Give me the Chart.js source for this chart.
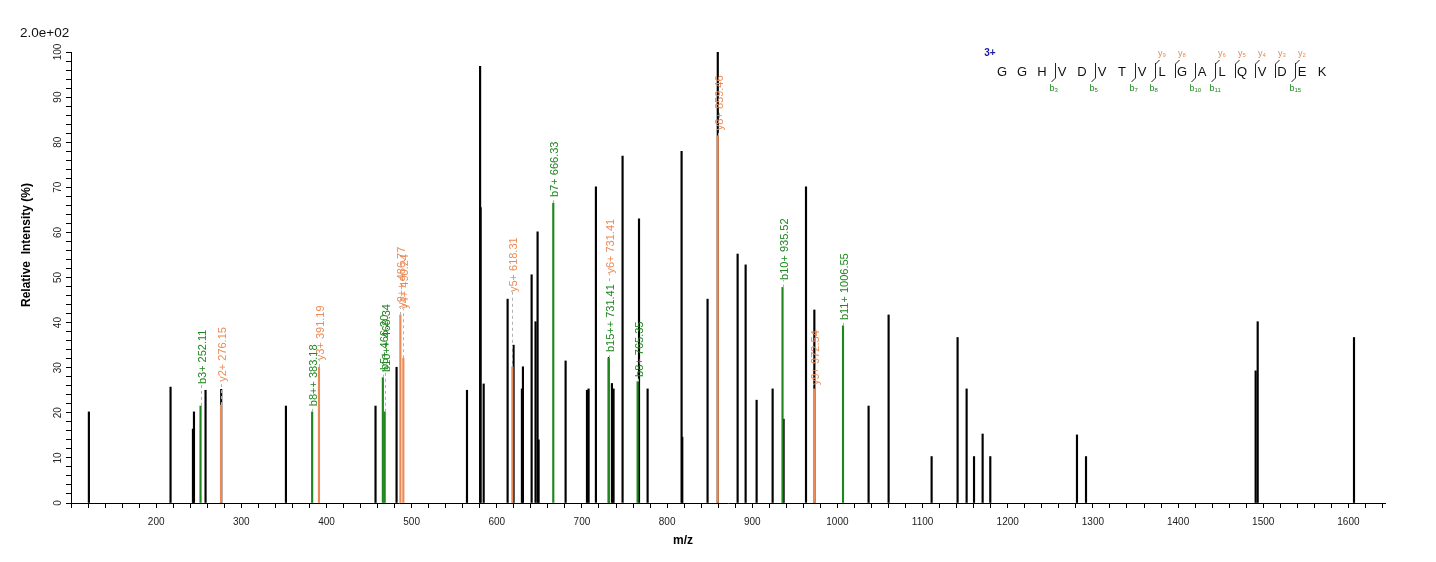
<!DOCTYPE html>
<html>
<head>
<meta charset="utf-8">
<script src="https://cdn.jsdelivr.net/npm/chart.js@4.4.0/dist/chart.umd.min.js"></script>
<style>
  body { margin: 0; background: #fff; }
  canvas { display: block; }
</style>
</head>
<body>
<canvas id="spectrum" width="1436" height="562"></canvas>
<script>
const FONT = "'Liberation Sans', Arial, sans-serif";

// unmatched peaks (black)
const peakMz = [121.0, 216.9, 243.2, 244.4, 258.0, 276.4, 352.4, 457.6, 482.3, 565.0,
  580.4, 581.0, 584.6, 612.7, 619.7, 629.5, 630.7, 640.9, 645.5, 647.9,
  649.1, 680.8, 705.9, 707.8, 716.4, 731.7, 735.2, 737.1, 747.7, 767.0,
  777.1, 817.0, 817.8, 847.5, 859.5, 882.8, 892.2, 905.1, 923.9, 936.8,
  963.1, 972.9, 1036.6, 1060.1, 1110.6, 1141.1, 1151.7, 1160.4, 1170.5, 1179.5,
  1281.3, 1291.9, 1491.1, 1493.5, 1606.6];
const peakInt = [20.2, 25.7, 16.4, 20.2, 25.0, 25.2, 21.5, 21.5, 30.1, 25.0,
  96.8, 65.5, 26.4, 45.2, 35.0, 25.3, 30.2, 50.6, 40.2, 60.1,
  14.0, 31.5, 25.0, 25.3, 70.1, 32.3, 26.5, 25.3, 76.9, 63.0,
  25.3, 78.0, 14.6, 45.2, 100.0, 55.2, 52.8, 22.8, 25.3, 18.6,
  70.1, 42.8, 21.5, 41.7, 10.3, 36.7, 25.3, 10.3, 15.3, 10.3,
  15.1, 10.3, 29.3, 40.2, 36.7];

// b ions (green)
const bMz = [252.11, 383.18, 466.20, 468.34, 666.33, 731.41, 765.35, 935.52, 1006.55];
const bInt = [21.5, 20.2, 27.8, 20.2, 66.5, 32.1, 26.9, 47.8, 39.3];
const bLabels = ['b3+ 252.11', 'b8++ 383.18', 'b5+ 466.20', 'b10++ 468.34', 'b7+ 666.33',
  'b15++ 731.41', 'b8+ 765.35', 'b10+ 935.52', 'b11+ 1006.55'];
// intensity at which each label starts
const bLabelLevel = [25.7, 20.8, 28.8, 28.4, 67.2, 32.8, 27.3, 48.8, 39.9];

// y ions (orange)
const yMz = [276.15, 391.19, 486.77, 490.24, 618.31, 731.41, 859.46, 972.54];
const yInt = [21.7, 30.1, 41.7, 32.1, 30.2, 32.1, 81.4, 25.3];
const yLabels = ['y2+ 276.15', 'y3+ 391.19', 'y9++ 486.77', 'y4+ 490.24', 'y5+ 618.31',
  'y6+ 731.41', 'y8+ 859.46', 'y9+ 972.54'];
const yLabelLevel = [26.2, 31.0, 42.6, 42.4, 46.1, 50.2, 82.0, 25.5];

// peptide and fragment marks
const sequence = 'GGHVDVTVLGALQVDEK';
const bMarks = [3, 5, 7, 8, 10, 11, 15];
const yMarks = [9, 8, 6, 5, 4, 3, 2];
const precursorCharge = '3+';

const xTickValues = [200, 300, 400, 500, 600, 700, 800, 900, 1000, 1100, 1200, 1300, 1400, 1500, 1600];
const yTickValues = [0, 10, 20, 30, 40, 50, 60, 70, 80, 90, 100];

const GREEN = '#1e871e';
const ORANGE = '#ec8a55';

const toPoints = (xs, ys) => xs.map((x, i) => ({ x: x, y: ys[i] }));

const range = (from, to, step) => {
  let out = [];
  for (let v = from; v <= to; v += step) out.push({ value: v });
  return out;
};

const drawRotated = (ctx, text, x, y, align) => {
  ctx.save();
  ctx.translate(x, y);
  ctx.rotate(-Math.PI / 2);
  ctx.textAlign = align;
  ctx.textBaseline = 'middle';
  ctx.fillText(text, 0, 0);
  ctx.restore();
};

const decor = {
  id: 'decor',
  afterDraw(chart) {
    const ctx = chart.ctx;
    const xs = chart.scales.x;
    const ys = chart.scales.y;
    const area = chart.chartArea;

    // y tick labels, vertical
    ctx.fillStyle = '#222';
    ctx.font = '10px ' + FONT;
    yTickValues.forEach((v) => {
      drawRotated(ctx, String(v), area.left - 13, ys.getPixelForValue(v), 'center');
    });

    // axis titles
    ctx.fillStyle = '#000';
    ctx.font = 'bold 12px ' + FONT;
    drawRotated(ctx, 'Relative  Intensity (%)', 27, 245, 'center');
    ctx.textAlign = 'center';
    ctx.textBaseline = 'middle';
    ctx.fillText('m/z', 683, 541);

    ctx.font = '13.5px ' + FONT;
    ctx.textAlign = 'left';
    ctx.textBaseline = 'alphabetic';
    ctx.fillStyle = '#111';
    ctx.fillText('2.0e+02', 20, 37);

    // peak labels
    const labelTops = {};
    const drawLabels = (mzs, ints, labels, levels, color) => {
      ctx.font = '11px ' + FONT;
      mzs.forEach((mz, i) => {
        const x = Math.round(xs.getPixelForValue(mz)) + 0.5;
        const yPeak = ys.getPixelForValue(ints[i]);
        const yLab = ys.getPixelForValue(levels[i]) - 3;
        const from = labelTops[mz] !== undefined ? labelTops[mz] : yPeak;
        if (from - yLab > 4) {
          ctx.save();
          ctx.strokeStyle = '#b0b0b0';
          ctx.lineWidth = 1;
          ctx.setLineDash([3, 3]);
          ctx.beginPath();
          ctx.moveTo(x, from);
          ctx.lineTo(x, yLab);
          ctx.stroke();
          ctx.restore();
        }
        ctx.fillStyle = color;
        drawRotated(ctx, labels[i], x + 1, yLab, 'left');
        labelTops[mz] = yLab - ctx.measureText(labels[i]).width - 3;
      });
    };
    drawLabels(bMz, bInt, bLabels, bLabelLevel, GREEN);
    drawLabels(yMz, yInt, yLabels, yLabelLevel, ORANGE);

    // sequence with fragment marks
    const seqX0 = area.right - 383;
    const step = 20;
    const base = 76;
    ctx.fillStyle = '#1c1ca8';
    ctx.font = 'bold 10px ' + FONT;
    ctx.textAlign = 'center';
    ctx.fillText(precursorCharge, seqX0 - 12, 56);

    ctx.fillStyle = '#111';
    ctx.font = '13px ' + FONT;
    for (let i = 0; i < sequence.length; i++) {
      ctx.fillText(sequence[i], seqX0 + i * step, base);
    }

    const markX = (n) => Math.round(seqX0 + (n - 1) * step + 13) + 0.5;
    ctx.lineWidth = 1;
    ctx.strokeStyle = '#222';
    bMarks.forEach((n) => {
      const x = markX(n);
      ctx.beginPath();
      ctx.moveTo(x, 63);
      ctx.lineTo(x, 78);
      ctx.lineTo(x - 4, 82);
      ctx.stroke();
      ctx.fillStyle = GREEN;
      ctx.font = '9px ' + FONT;
      ctx.textAlign = 'right';
      ctx.fillText('b', x - 1, 91);
      ctx.font = '6px ' + FONT;
      ctx.textAlign = 'left';
      ctx.fillText(String(n), x - 1, 92);
    });
    yMarks.forEach((n) => {
      const x = markX(sequence.length - n);
      ctx.strokeStyle = '#222';
      ctx.beginPath();
      ctx.moveTo(x + 4, 60);
      ctx.lineTo(x, 64);
      ctx.lineTo(x, 78);
      ctx.stroke();
      ctx.fillStyle = ORANGE;
      ctx.font = '9px ' + FONT;
      ctx.textAlign = 'right';
      ctx.fillText('y', x + 7, 56);
      ctx.font = '6px ' + FONT;
      ctx.textAlign = 'left';
      ctx.fillText(String(n), x + 7, 57);
    });
  }
};

const ctx = document.getElementById('spectrum');

new Chart(ctx, {
  type: 'bar',
  data: {
    datasets: [
      { label: 'b ions', data: toPoints(bMz, bInt), backgroundColor: GREEN },
      { label: 'y ions', data: toPoints(yMz, yInt), backgroundColor: ORANGE },
      { label: 'peaks', data: toPoints(peakMz, peakInt), backgroundColor: '#000' },
    ]
  },
  options: {
    responsive: false,
    animation: false,
    layout: { padding: { top: 52, right: 51, left: 0, bottom: 0 } },
    datasets: {
      bar: { grouped: false, barThickness: 1.5, borderWidth: 0 }
    },
    plugins: {
      legend: { display: false },
      tooltip: { enabled: false },
    },
    scales: {
      x: {
        type: 'linear',
        offset: false,
        min: 100,
        max: 1643,
        afterFit(scale) { scale.height = 59; },
        afterBuildTicks(scale) { scale.ticks = range(100, 1640, 20); },
        ticks: {
          autoSkip: false,
          maxRotation: 0,
          minRotation: 0,
          padding: 8,
          color: '#222',
          font: { family: FONT, size: 10 },
          callback: (v) => xTickValues.includes(v) ? String(v) : '',
        },
        grid: { drawOnChartArea: false, offset: false, tickLength: 5, color: '#000' },
        border: { color: '#000' },
      },
      y: {
        min: 0,
        max: 100,
        afterFit(scale) { scale.width = 71; },
        afterBuildTicks(scale) { scale.ticks = range(0, 100, 2); },
        ticks: { display: false },
        grid: { drawOnChartArea: false, tickLength: 5, color: '#000' },
        border: { color: '#000' },
      }
    }
  },
  plugins: [decor]
});
</script>
</body>
</html>
